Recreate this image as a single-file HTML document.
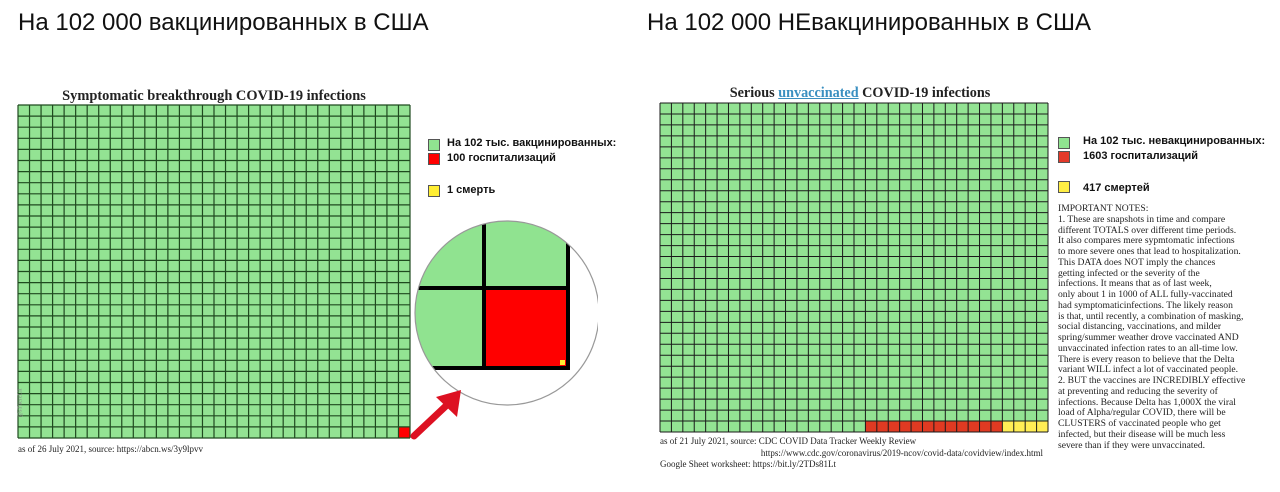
<!DOCTYPE html>
<html><head><meta charset="utf-8"><style>
body{margin:0;width:1280px;height:492px;background:#fff;overflow:hidden;position:relative;font-family:"Liberation Sans","Noto Sans CJK SC",sans-serif}
.h{position:absolute;font-size:24px;color:#111;top:9px}
.lg{position:absolute;font-size:11px;font-weight:bold;color:#111}
.sq{position:absolute;width:12px;height:12px;border:1px solid #555;box-sizing:border-box}
.serif{font-family:"Liberation Serif",serif;position:absolute;color:#222}
</style></head><body>
<div class="h" style="left:18px">На 102 000 вакцинированных в США</div>
<div class="h" style="left:647px">На 102 000 НЕвакцинированных в США</div>
<div class="serif" style="left:18px;width:392px;top:88px;text-align:center;font-weight:bold;font-size:14.4px">Symptomatic breakthrough COVID-19 infections</div>
<div class="serif" style="left:660px;width:400px;top:85px;text-align:center;font-weight:bold;font-size:14.2px">Serious <span style="color:#3a8fc0;text-decoration:underline">unvaccinated</span> COVID-19 infections</div>
<svg id="sv" width="1280" height="492" style="position:absolute;left:0;top:0">
<g>
<clipPath id="cc"><circle cx="507" cy="313" r="92"/></clipPath>
<g clip-path="url(#cc)">
<rect x="410" y="210" width="73" height="77" fill="#90e390"/>
<rect x="486" y="210" width="82" height="77" fill="#90e390"/>
<rect x="410" y="290" width="73" height="76" fill="#90e390"/>
<rect x="486" y="290" width="80" height="76" fill="#ff0000"/>
<rect x="560" y="360" width="5" height="5" fill="#ffee33"/>
<line x1="484" y1="200" x2="484" y2="368" stroke="#000" stroke-width="4"/>
<line x1="410" y1="288" x2="570" y2="288" stroke="#000" stroke-width="4"/>
<line x1="568" y1="240" x2="568" y2="370" stroke="#000" stroke-width="4"/>
<line x1="430" y1="368" x2="570" y2="368" stroke="#000" stroke-width="4"/>
</g>
<circle cx="507" cy="313" r="92" fill="none" stroke="#999" stroke-width="1.2"/>
<rect x="598" y="200" width="50" height="230" fill="#fff"/>
</g>
<g>
<line x1="414" y1="436" x2="448" y2="404" stroke="#dd1122" stroke-width="7" stroke-linecap="round"/>
<polygon points="436,397 461,390 457,417" fill="#dd1122"/>
</g>
</svg>
<div class="sq" style="left:428px;top:139px;background:#90e390"></div>
<div class="sq" style="left:428px;top:153px;background:#ff0000"></div>
<div class="sq" style="left:428px;top:185px;background:#ffee33"></div>
<div class="lg" style="left:447px;top:137px">На 102 тыс. вакцинированных:</div>
<div class="lg" style="left:447px;top:152px">100 госпитализаций</div>
<div class="lg" style="left:447px;top:184px">1 смерть</div>
<div class="sq" style="left:1058px;top:137px;background:#90e390"></div>
<div class="sq" style="left:1058px;top:151px;background:#e33a2a"></div>
<div class="sq" style="left:1058px;top:181px;background:#ffee44"></div>
<div class="lg" style="left:1083px;top:135px">На 102 тыс. невакцинированных:</div>
<div class="lg" style="left:1083px;top:150px">1603 госпитализаций</div>
<div class="lg" style="left:1083px;top:182px">417 смертей</div>
<div class="serif" style="left:1058px;top:204px;font-size:9.6px;line-height:10.75px;white-space:pre">IMPORTANT NOTES:
1. These are snapshots in time and compare
different TOTALS over different time periods.
It also compares mere sypmtomatic infections
to more severe ones that lead to hospitalization.
This DATA does NOT imply the chances
getting infected or the severity of the
infections. It means that as of last week,
only about 1 in 1000 of ALL fully-vaccinated
had symptomaticinfections. The likely reason
is that, until recently, a combination of masking,
social distancing, vaccinations, and milder
spring/summer weather drove vaccinated AND
unvaccinated infection rates to an all-time low.
There is every reason to believe that the Delta
variant WILL infect a lot of vaccinated people.
2. BUT the vaccines are INCREDIBLY effective
at preventing and reducing the severity of
infections. Because Delta has 1,000X the viral
load of Alpha/regular COVID, there will be
CLUSTERS of vaccinated people who get
infected, but their disease will be much less
severe than if they were unvaccinated.</div>
<div class="serif" style="left:18px;top:444px;font-size:9px">as of 26 July 2021, source: https://abcn.ws/3y9lpvv</div>
<div class="serif" style="left:6px;top:400px;font-size:6px;transform:rotate(-90deg);color:#888">@sThereLit</div>
<div class="serif" style="left:660px;top:436px;font-size:9px">as of 21 July 2021, source: CDC COVID Data Tracker Weekly Review</div>
<div class="serif" style="left:660px;width:383px;text-align:right;top:448px;font-size:9px">https://www.cdc.gov/coronavirus/2019-ncov/covid-data/covidview/index.html</div>
<div class="serif" style="left:660px;top:459px;font-size:9px">Google Sheet worksheet: https://bit.ly/2TDs81Lt</div>
<script>
const cols=[34,34];
const rows=[30,30];
const leftRed=[1];
const rightRed=[12];
const rightYellow=[4];
const svg=document.getElementById('sv');
const NS='http://www.w3.org/2000/svg';
function grid(x0,y0,w,h,nc,nr,red,yellow,stroke,sw,redColor,name){
  const g=document.createElementNS(NS,'g');
  
  
  const cw=w/nc,ch=h/nr;
  const bg=document.createElementNS(NS,'rect');
  bg.setAttribute('x',x0);bg.setAttribute('y',y0);bg.setAttribute('width',w);bg.setAttribute('height',h);bg.setAttribute('fill','#93e393');
  g.appendChild(bg);
  const total=nc*nr;
  for(let k=0;k<red+yellow;k++){
    const idx=total-1-k;const r=Math.floor(idx/nc),c=idx%nc;
    const isY=k<yellow;
    const rc=document.createElementNS(NS,'rect');
    
    
    rc.setAttribute('x',x0+c*cw);rc.setAttribute('y',y0+r*ch);rc.setAttribute('width',cw);rc.setAttribute('height',ch);
    rc.setAttribute('fill',isY?'#ffee55':redColor);
    g.appendChild(rc);
  }
  let d='';
  for(let i=0;i<=nc;i++){const x=x0+i*cw;d+=`M${x} ${y0}V${y0+h}`;}
  for(let j=0;j<=nr;j++){const y=y0+j*ch;d+=`M${x0} ${y}H${x0+w}`;}
  const p=document.createElementNS(NS,'path');
  p.setAttribute('d',d);p.setAttribute('stroke',stroke);p.setAttribute('stroke-width',sw);p.setAttribute('fill','none');
  g.appendChild(p);
  svg.insertBefore(g,svg.firstChild);
}
grid(18,105,392,333,cols[0],rows[0],leftRed[0],0,'#1f4a1f','1.2','#ff0000','left-grid');
grid(660,103,388,329,cols[1],rows[1],rightRed[0],rightYellow[0],'#1a1a1a','1','#e03a22','right-grid');
</script>
</body></html>
